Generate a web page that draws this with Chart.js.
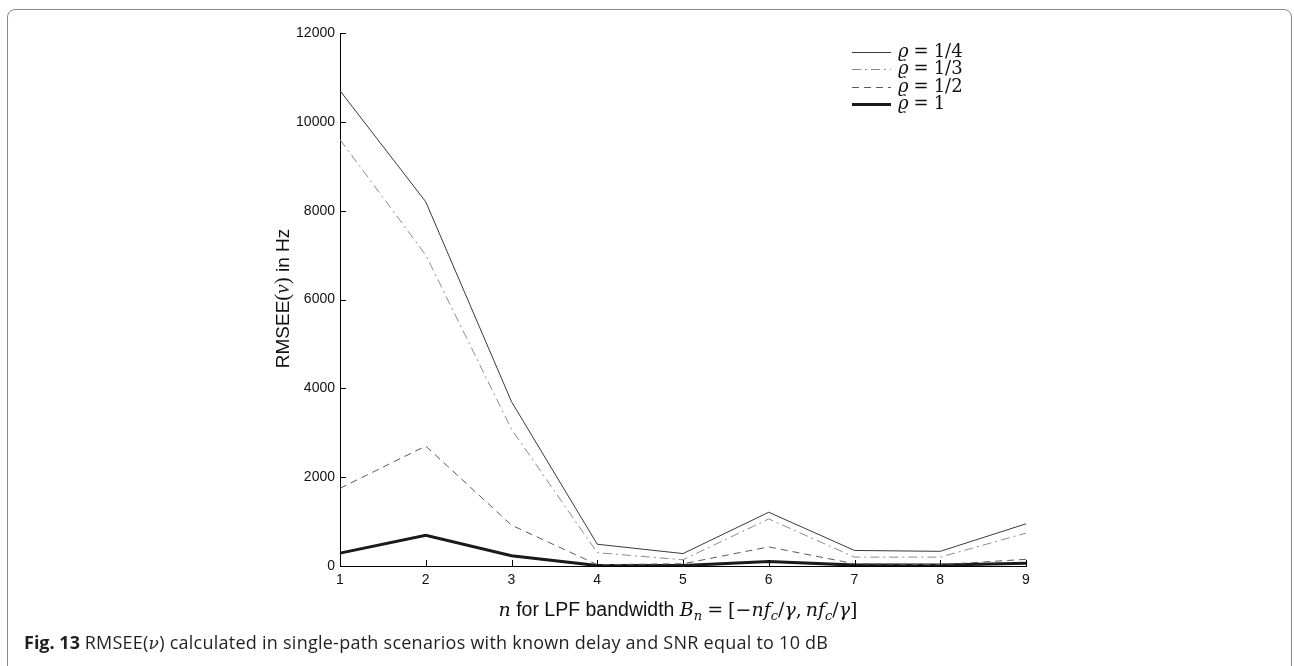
<!DOCTYPE html>
<html><head><meta charset="utf-8">
<script src="https://cdn.jsdelivr.net/npm/chart.js@4/dist/chart.umd.min.js"></script>
<style>
html,body{margin:0;padding:0;background:#fff;overflow:hidden;}
#wrap{position:relative;width:1294px;height:666px;}
#frame{position:absolute;left:7px;top:9px;width:1285px;height:720px;border:1.5px solid #8a8a8a;border-radius:8px;box-sizing:border-box;}
#c{position:absolute;left:0;top:0;}
#cap{position:absolute;left:24px;top:628px;font-family:"Open Sans";font-size:18px;line-height:28px;color:#231f20;white-space:nowrap;}
#cap b{font-weight:700;}
#cap .r{letter-spacing:0.25px;}
</style></head>
<body>
<div id="wrap">
<div id="frame"></div>
<canvas id="c" width="1294" height="666"></canvas>
<div id="cap"><b>Fig. 13</b> <span class="r">RMSEE(<span style="font-family:'DejaVu Serif';font-style:italic;font-size:17px">ν</span>) calculated in single-path scenarios with known delay and SNR equal to 10 dB</span></div>
</div>
<script>
// ---- data ----
const categories = ['1','2','3','4','5','6','7','8','9'];
const rhoQuarter = [10700, 8200, 3700, 490, 280, 1210, 350, 330, 950];
const rhoThird   = [9600, 7000, 3080, 300, 140, 1060, 200, 200, 740];
const rhoHalf    = [1750, 2700, 920, 30, 50, 430, 50, 30, 150];
const rhoOne     = [290, 690, 230, 10, 10, 100, 20, 20, 60];
const yTickValues = [0, 2000, 4000, 6000, 8000, 10000, 12000];
const seriesNames = ['1/4', '1/3', '1/2', '1'];

const SANS = '"Liberation Sans", Arial, sans-serif';
const SERIF = '"Liberation Serif", serif';
const MATH = '"DejaVu Serif", serif';

const datasets = [
  {label: seriesNames[0], data: rhoQuarter, borderColor: '#3a3a3a', borderWidth: 1, borderDash: []},
  {label: seriesNames[1], data: rhoThird,   borderColor: '#8c8c8c', borderWidth: 1, borderDash: [9, 4, 2, 4]},
  {label: seriesNames[2], data: rhoHalf,    borderColor: '#5a5a5a', borderWidth: 1, borderDash: [7, 5]},
  {label: seriesNames[3], data: rhoOne,     borderColor: '#1a1a1a', borderWidth: 3, borderDash: []}
].map(d => Object.assign(d, {fill: false, tension: 0, pointRadius: 0, pointHoverRadius: 0}));

// segs: [text, font, dy, gapAfter]
function drawSegs(ctx, segs, x, y) {
  let cx = x;
  for (const [t, f, dy, g] of segs) {
    ctx.font = f;
    if (t) ctx.fillText(t, cx, y + (dy || 0));
    cx += (t ? ctx.measureText(t).width : 0) + (g || 0);
  }
  return cx - x;
}
function segsWidth(ctx, segs) {
  let w = 0;
  for (const [t, f, dy, g] of segs) { ctx.font = f; w += (t ? ctx.measureText(t).width : 0) + (g || 0); }
  return w;
}

const decor = {
  id: 'decor',
  afterDatasetsDraw(chart) {
    const ctx = chart.ctx;
    const xs = chart.scales.x, ys = chart.scales.y;
    const area = chart.chartArea;
    ctx.save();
    // inward tick marks
    ctx.strokeStyle = '#000';
    ctx.lineWidth = 1;
    ctx.setLineDash([]);
    ctx.beginPath();
    for (const v of yTickValues) {
      const py = Math.round(ys.getPixelForValue(v)) + 0.5;
      ctx.moveTo(area.left, py); ctx.lineTo(area.left + 6, py);
    }
    for (let i = 0; i < categories.length; i++) {
      const px = Math.round(xs.getPixelForValue(i)) + 0.5;
      ctx.moveTo(px, area.bottom); ctx.lineTo(px, area.bottom - 6);
    }
    ctx.stroke();

    ctx.fillStyle = '#111';
    ctx.textBaseline = 'alphabetic';
    ctx.textAlign = 'left';
    // x title
    const sans = '19.5px ' + SANS;
    const it = 'italic 19px ' + MATH;
    const rm = '19px ' + MATH;
    const sub = 'italic 13px ' + MATH;
    const xsegs = [
      ['n', it], [' for LPF bandwidth ', sans], ['B', it], ['n', sub, 4, 5],
      ['=', rm, 0, 5], ['[\u2212', rm], ['nf', it], ['c', sub, 4], ['/', rm], ['\u03B3', it],
      [',', rm, 0, 4], ['nf', it], ['c', sub, 4], ['/', rm], ['\u03B3', it], [']', rm]
    ];
    const cxm = (area.left + area.right) / 2 - 5;
    const w = segsWidth(ctx, xsegs);
    drawSegs(ctx, xsegs, cxm - w / 2, 616);

    // y title
    const ysegs = [['RMSEE', '19px ' + SANS], ['(', '21px ' + SERIF], ['\u03BD', 'italic 21px ' + SERIF], [')', '21px ' + SERIF], [' in Hz', '19px ' + SANS]];
    const yw = segsWidth(ctx, ysegs);
    ctx.save();
    ctx.translate(289, (area.top + area.bottom) / 2 - 1);
    ctx.rotate(-Math.PI / 2);
    drawSegs(ctx, ysegs, -yw / 2, 0);
    ctx.restore();

    // legend
    const lx0 = 852, lx1 = 891, ly0 = 52, ldy = 17.4;
    const lf = 18;
    chart.data.datasets.forEach((ds, i) => {
      const y = Math.round(ly0 + i * ldy) + (ds.borderWidth % 2 ? 0.5 : 0);
      ctx.strokeStyle = ds.borderColor;
      ctx.lineWidth = ds.borderWidth;
      ctx.setLineDash(ds.borderDash || []);
      ctx.beginPath(); ctx.moveTo(lx0, y); ctx.lineTo(lx1, y); ctx.stroke();
      ctx.setLineDash([]);
      ctx.fillStyle = '#111';
      drawSegs(ctx, [
        ['\u03F1', 'italic ' + lf + 'px ' + MATH, 0, 5],
        ['=', lf + 'px ' + MATH, 0, 5],
        [ds.label, lf + 'px ' + MATH]
      ], 898, Math.round(ly0 + i * ldy) + 5);
    });
    ctx.restore();
  }
};

new Chart(document.getElementById('c'), {
  type: 'line',
  data: {labels: categories, datasets},
  options: {
    responsive: false,
    animation: false,
    devicePixelRatio: 1,
    layout: {padding: {left: 0, top: 33, right: 268, bottom: 0}},
    plugins: {legend: {display: false}, tooltip: {enabled: false}},
    scales: {
      x: {
        type: 'category', offset: false,
        grid: {display: false, drawTicks: false},
        border: {display: true, color: '#000', width: 1},
        ticks: {color: '#111', font: {family: SANS, size: 14}, padding: 6, maxRotation: 0, autoSkip: false},
        afterFit(s) { s.height = 100; }
      },
      y: {
        min: 0, max: 12000,
        grid: {display: false, drawTicks: false},
        border: {display: true, color: '#000', width: 1},
        ticks: {stepSize: 2000, color: '#111', font: {family: SANS, size: 14}, padding: 5,
                callback: (v) => String(v)},
        afterBuildTicks(s) { s.ticks = yTickValues.map(v => ({value: v})); },
        afterFit(s) { s.width = 340; }
      }
    }
  },
  plugins: [decor]
});
</script>
</body></html>
